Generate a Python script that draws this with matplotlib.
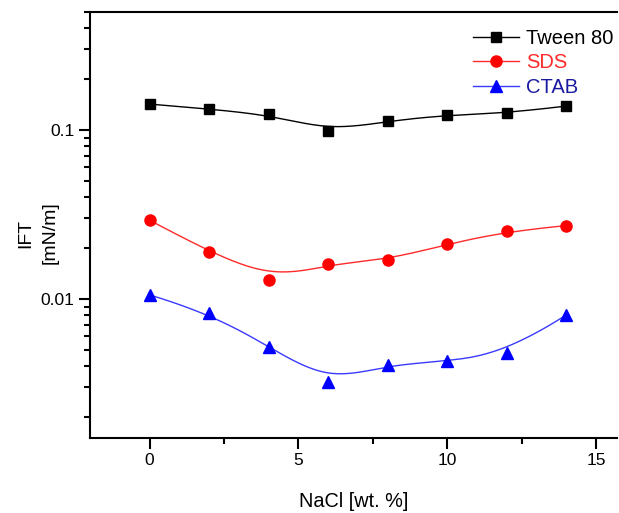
import numpy as np
import matplotlib
matplotlib.use("Agg")
import matplotlib.pyplot as plt
from matplotlib.ticker import LogLocator, NullFormatter, FixedLocator

plt.rcParams['font.family'] = ['Liberation Sans', 'DejaVu Sans']

nacl = [0, 2, 4, 6, 8, 10, 12, 14]
tween80 = [0.1425, 0.1331, 0.1243, 0.0991, 0.1126, 0.1232, 0.1256, 0.1387]
sds = [0.02922, 0.01905, 0.01296, 0.01604, 0.01708, 0.02107, 0.02515, 0.02715]
ctab = [0.01056, 0.00826, 0.00522, 0.00324, 0.00407, 0.00426, 0.00479, 0.00804]

series = [
    ("Tween 80", tween80, "s", "black", "black", "black", 7.2),
    ("SDS", sds, "o", "#ff2a2a", "red", "#ff2a2a", 8.0),
    ("CTAB", ctab, "^", "#3a3aff", "blue", "#1a1aa0", 8.5),
]


def bspline(px, py, n=300):
    """Clamped uniform cubic B-spline using the points as control points."""
    p = np.column_stack([px, py])
    m = len(p)
    k = 3
    inner = np.arange(1, m - k)
    t = np.concatenate([[0] * (k + 1), inner, [m - k] * (k + 1)]).astype(float)
    u = np.linspace(0, m - k, n)
    u[-1] -= 1e-9

    def basis(i, kk, uu):
        if kk == 0:
            return np.where((t[i] <= uu) & (uu < t[i + 1]), 1.0, 0.0)
        a = 0.0
        d1 = t[i + kk] - t[i]
        d2 = t[i + kk + 1] - t[i + 1]
        if d1 > 0:
            a = a + (uu - t[i]) / d1 * basis(i, kk - 1, uu)
        if d2 > 0:
            a = a + (t[i + kk + 1] - uu) / d2 * basis(i + 1, kk - 1, uu)
        return a

    out = np.zeros((n, 2))
    for i in range(m):
        b = basis(i, k, u)
        out += np.outer(b, p[i])
    return out[:, 0], out[:, 1]


fig = plt.figure(figsize=(6.19, 5.13), dpi=100)
ax = fig.add_axes([0.1454, 0.1462, 0.9968 - 0.1454, 0.9766 - 0.1462])

handles = []
for name, vals, mk, lc, mc, tc, ms in series:
    cx, cy = bspline(np.array(nacl, float), np.log10(vals))
    ax.plot(cx, 10 ** cy, color=lc, lw=1.0, zorder=2)
    ax.plot(nacl, vals, ls="none", marker=mk, ms=ms, color=mc, zorder=3)
    h, = ax.plot([], [], color=lc, lw=1.0, marker=mk, ms=ms, mfc=mc, mec=mc)
    handles.append(h)

ax.set_yscale("log")
ax.set_ylim(0.0015, 0.5)
ax.set_xlim(-2, 15.7)

ax.xaxis.set_major_locator(FixedLocator([0, 5, 10, 15]))
ax.xaxis.set_minor_locator(FixedLocator([2.5, 7.5, 12.5]))
ax.yaxis.set_major_locator(FixedLocator([0.01, 0.1]))
ax.set_yticklabels(["0.01", "0.1"])
ax.yaxis.set_minor_locator(LogLocator(base=10, subs=np.arange(2, 10), numticks=20))
ax.yaxis.set_minor_formatter(NullFormatter())

ax.tick_params(which="major", direction="out", length=8, width=1.5, labelsize=12.5, pad=3)
ax.tick_params(which="minor", direction="out", length=4, width=1.5)
ax.tick_params(axis="x", which="both", top=False)
ax.tick_params(axis="y", which="both", right=False)

ax.spines["right"].set_visible(False)
for s in ["left", "bottom", "top"]:
    ax.spines[s].set_linewidth(1.5)

ax.set_xlabel("NaCl [wt. %]", fontsize=14.3)
ax.xaxis.set_label_coords((354 - 90) / 527, -(502 - 438) / 426, transform=ax.transAxes)
ax.set_ylabel("IFT\n[mN/m]", fontsize=14, linespacing=1.6)
ax.yaxis.set_label_coords(-(90 - 38) / 527, (438 - 233) / 426, transform=ax.transAxes)
ax.yaxis.label.set_va("center")
ax.xaxis.label.set_va("center")

leg = fig.legend(handles, [s[0] for s in series], loc="upper left",
                 bbox_to_anchor=(473 / 619, (513 - 29) / 513),
                 frameon=False, fontsize=14.5,
                 handlelength=2.3, handletextpad=0.35, labelspacing=0.27,
                 borderaxespad=0, borderpad=0)
for txt, s in zip(leg.get_texts(), series):
    txt.set_color(s[5])

fig.savefig("out.png", dpi=100)
